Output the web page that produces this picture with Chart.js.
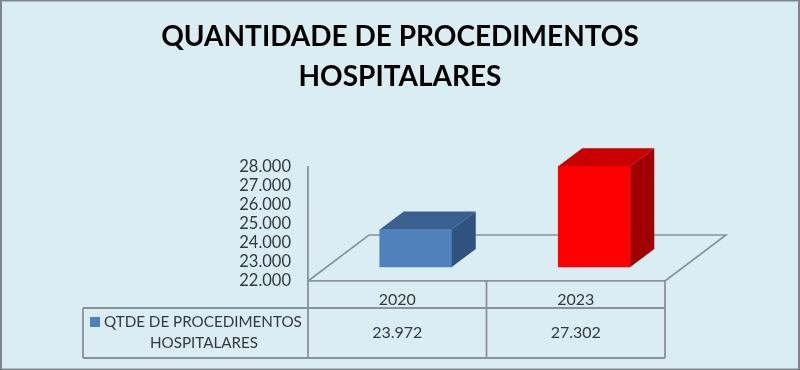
<!DOCTYPE html>
<html>
<head>
<meta charset="utf-8">
<style>html,body{margin:0;padding:0;background:#DAEDF3}canvas{display:block}</style>
<script src="https://cdn.jsdelivr.net/npm/chart.js@4"></script>
</head>
<body>
<div style="width:800px;height:370px"><canvas id="c" width="800" height="370"></canvas></div>
<script>
const categories = ['2020', '2023'];
const seriesName = ['QTDE DE PROCEDIMENTOS', 'HOSPITALARES'];
const seriesValues = [23972, 27302];
const titleLines = ['QUANTIDADE DE PROCEDIMENTOS', 'HOSPITALARES'];
const axisMin = 22000;
const axisMax = 28000;
const axisStep = 1000;
const frontColors = ['#4F81BD', '#FF0000'];
const topColors = ['#3A6090', '#C80000'];
const sideColors = ['#30527F', '#A00000'];

const FONT = 'Lato, "Open Sans", sans-serif';
const LINE = '#8A9299';
const TEXT = '#33393D';
const fmt = v => String(v).replace(/\B(?=(\d{3})+$)/g, '.');

const BAR_SHIFT = {x: 18.5, y: -14};
const DEPTH = {x: 24, y: -18};
const FLOOR = {x: 61, y: -46};

function poly(ctx, pts, fill) {
  ctx.beginPath();
  pts.forEach((p, i) => i ? ctx.lineTo(p[0], p[1]) : ctx.moveTo(p[0], p[1]));
  ctx.closePath();
  ctx.fillStyle = fill;
  ctx.fill();
}

const scene = {
  id: 'scene',
  beforeDraw(chart) {
    const {ctx, width, height} = chart;
    ctx.save();
    ctx.fillStyle = '#DAEDF3';
    ctx.fillRect(0, 0, width, height);
    ctx.strokeStyle = '#7F868B';
    ctx.lineWidth = 2;
    ctx.strokeRect(1, 0.5, width - 2, height - 1);
    ctx.restore();
  },
  beforeDatasetsDraw(chart) {
    const {ctx, chartArea: a} = chart;
    ctx.save();
    ctx.strokeStyle = LINE;
    ctx.lineWidth = 1.6;
    ctx.beginPath();
    ctx.moveTo(a.left, a.bottom);
    ctx.lineTo(a.left + FLOOR.x, a.bottom + FLOOR.y);
    ctx.lineTo(a.right + FLOOR.x, a.bottom + FLOOR.y);
    ctx.lineTo(a.right, a.bottom);
    ctx.stroke();
    ctx.restore();
    // bars stand on the floor: the front plane sits behind the table edge
    ctx.save();
    ctx.translate(BAR_SHIFT.x, BAR_SHIFT.y);
  },
  afterDatasetsDraw(chart) {
    const {ctx} = chart;
    chart.getDatasetMeta(0).data.forEach((bar, i) => {
      const l = bar.x - bar.width / 2, r = bar.x + bar.width / 2;
      const t = bar.y, b = bar.base;
      poly(ctx, [[l, t], [r, t], [r + DEPTH.x, t + DEPTH.y], [l + DEPTH.x, t + DEPTH.y]], topColors[i]);
      poly(ctx, [[r, t], [r + DEPTH.x, t + DEPTH.y], [r + DEPTH.x, b + DEPTH.y], [r, b]], sideColors[i]);
    });
    ctx.restore();
  },
  afterDraw(chart) {
    const {ctx, chartArea: a} = chart;
    const xs = chart.scales.x;
    const rowTop = a.bottom + 27, rowBottom = a.bottom + 77, tableLeft = 83;
    ctx.save();
    ctx.strokeStyle = LINE;
    ctx.lineWidth = 1.8;
    ctx.beginPath();
    ctx.moveTo(tableLeft, rowTop); ctx.lineTo(a.right, rowTop);
    ctx.moveTo(tableLeft, rowBottom); ctx.lineTo(a.right, rowBottom);
    ctx.moveTo(tableLeft, rowTop); ctx.lineTo(tableLeft, rowBottom);
    ctx.moveTo(a.left, a.bottom); ctx.lineTo(a.left, rowBottom);
    ctx.moveTo((a.left + a.right) / 2, a.bottom); ctx.lineTo((a.left + a.right) / 2, rowBottom);
    ctx.moveTo(a.right, a.bottom); ctx.lineTo(a.right, rowBottom);
    ctx.stroke();

    ctx.fillStyle = TEXT;
    ctx.font = '16px ' + FONT;
    ctx.textAlign = 'center';
    ctx.textBaseline = 'middle';
    seriesValues.forEach((v, i) => ctx.fillText(fmt(v), xs.getPixelForValue(i), rowTop + 25));

    ctx.font = '15.2px ' + FONT;
    ctx.fillStyle = frontColors[0];
    ctx.fillRect(90, rowTop + 9, 10, 10);
    ctx.fillStyle = TEXT;
    ctx.textAlign = 'left';
    ctx.fillText(seriesName[0], 104, rowTop + 14);
    ctx.textAlign = 'center';
    ctx.fillText(seriesName[1], 204, rowTop + 35);
    ctx.restore();
  }
};

new Chart(document.getElementById('c'), {
  type: 'bar',
  data: {
    labels: categories,
    datasets: [{
      label: seriesName.join(' '),
      data: seriesValues,
      base: axisMin,
      backgroundColor: frontColors,
      borderWidth: 0,
      barThickness: 72,
      clip: false,
      yAxisID: 'y'
    }]
  },
  options: {
    responsive: false,
    animation: false,
    events: [],
    layout: {padding: 0},
    plugins: {
      legend: {display: false},
      tooltip: {enabled: false},
      title: {
        display: true,
        text: titleLines,
        color: '#000000',
        font: {family: FONT, size: 28, weight: 'bold', lineHeight: 1.43},
        padding: {top: 17, bottom: 70}
      }
    },
    scales: {
      x: {
        grid: {display: false, drawTicks: false},
        border: {display: true, color: LINE, width: 1.8},
        ticks: {color: TEXT, font: {family: FONT, size: 16}, padding: 9, maxRotation: 0},
        afterFit(s) { s.height = 89; }
      },
      y: {
        position: 'left',
        min: axisMin,
        max: axisMax,
        grid: {display: false, drawTicks: false},
        border: {display: true, color: LINE, width: 1.8},
        ticks: {
          stepSize: axisStep,
          autoSkip: false,
          color: TEXT,
          font: {family: FONT, size: 16.5},
          padding: 17,
          callback: v => fmt(v)
        },
        afterFit(s) { s.width = 308; }
      },
      yRight: {
        position: 'right',
        display: true,
        grid: {display: false, drawTicks: false},
        border: {display: false},
        ticks: {display: false},
        afterFit(s) { s.width = 135; }
      }
    }
  },
  plugins: [scene]
});
</script>
</body>
</html>
